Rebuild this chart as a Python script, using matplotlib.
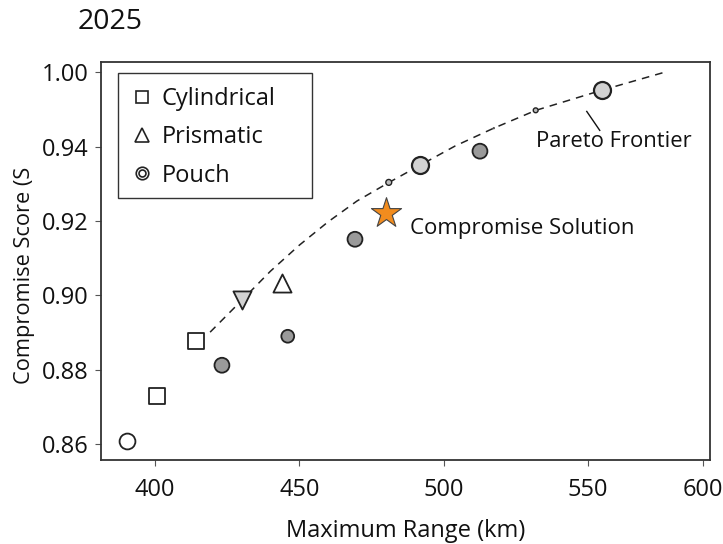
import matplotlib
matplotlib.use("Agg")
import matplotlib.pyplot as plt
from matplotlib.lines import Line2D
from matplotlib.patches import Rectangle
from matplotlib.legend_handler import HandlerTuple

plt.rcParams['font.family'] = ['Open Sans', 'DejaVu Sans']

# ---- data (axis units) ----
cyl_x = [400.7, 414.2]
cyl_y = [0.8729, 0.8877]

prism_up_x = [444.0]
prism_up_y = [0.9033]
prism_down_x = [430.1]
prism_down_y = [0.8987]

pouch_open_x = [390.3]
pouch_open_y = [0.8608]
pouch_dark_x = [423.2, 446.0, 469.3, 512.6]
pouch_dark_y = [0.8812, 0.8890, 0.9151, 0.9388]
pouch_light_x = [491.8, 554.9]
pouch_light_y = [0.9350, 0.9552]
pouch_tiny_x = [481.0, 531.9]
pouch_tiny_y = [0.9304, 0.9498]
pouch_dot_x = [517.4]
pouch_dot_y = [0.9450]

star_x = [480.0]
star_y = [0.9221]

frontier_x = [419.1, 430.1, 440.0, 450.0, 460.0, 470.0, 481.1, 491.8, 504.0, 517.1, 532.0, 554.8, 577.7]
frontier_y = [0.8901, 0.8987, 0.9065, 0.9135, 0.9198, 0.9254, 0.9304, 0.9350, 0.9402, 0.9449, 0.9498, 0.9552, 0.9603]

pareto_leader_x = [549.6, 554.1]
pareto_leader_y = [0.9495, 0.9444]

xtick_pos = [400, 450, 500, 550, 590]
xtick_labels = ['400', '450', '500', '550', '600']
ytick_pos = [0.86, 0.88, 0.90, 0.92, 0.94, 0.96]
ytick_labels = ['0.86', '0.88', '0.90', '0.92', '0.94', '1.00']

title_text = '2025'
x_label = 'Maximum Range (km)'
y_label = 'Compromise Score (S'
legend_labels = ['Cylindrical', 'Prismatic', 'Pouch']

# ---- figure ----
W, H = 723, 544
fig = plt.figure(figsize=(W/100, H/100), dpi=100)
ax = fig.add_axes([101/W, 1-460/H, (710-101)/W, (460-62)/H])

edge = '#222222'
light = '#d2d2d2'
dark = '#9a9a9a'
fs = 17

ax.plot(frontier_x, frontier_y, ls=(0, (5, 4)), color='#222222', lw=1.1, zorder=1)

ax.scatter(cyl_x, cyl_y, marker='s', s=125, facecolor='white', edgecolor=edge, linewidth=1.3, zorder=3)
ax.scatter(prism_up_x, prism_up_y, marker='^', s=170, facecolor='white', edgecolor=edge, linewidth=1.3, zorder=3)
ax.scatter(prism_down_x, prism_down_y, marker='v', s=170, facecolor=light, edgecolor=edge, linewidth=1.3, zorder=3)
ax.scatter(pouch_open_x, pouch_open_y, marker='o', s=130, facecolor='white', edgecolor=edge, linewidth=1.3, zorder=3)
ax.scatter(pouch_dark_x, pouch_dark_y, marker='o', s=[115, 85, 115, 115], facecolor=dark, edgecolor=edge, linewidth=1.3, zorder=3)
ax.scatter(pouch_light_x, pouch_light_y, marker='o', s=150, facecolor=light, edgecolor=edge, linewidth=1.6, zorder=3)
ax.scatter(pouch_tiny_x, pouch_tiny_y, marker='o', s=[18, 12], facecolor='#bbbbbb', edgecolor=edge, linewidth=1.0, zorder=3)
ax.scatter(pouch_dot_x, pouch_dot_y, marker='o', s=3, facecolor='#555555', edgecolor='none', zorder=3)
ax.scatter(star_x, star_y, marker='*', s=520, facecolor='#f28c1e', edgecolor='#444444', linewidth=0.8, zorder=4)

ax.text(488.3, 0.9181, 'Compromise Solution', fontsize=16, color='#111111', va='center', ha='left')
ax.plot(pareto_leader_x, pareto_leader_y, color='#111111', lw=1.0, zorder=2)
ax.text(532.0, 0.9415, 'Pareto Frontier', fontsize=15.8, color='#111111', va='center', ha='left')

ax.set_xlim(381.3, 592.3)
ax.set_ylim(0.8557, 0.9628)
ax.set_xticks(xtick_pos)
ax.set_xticklabels(xtick_labels)
ax.set_yticks(ytick_pos)
ax.set_yticklabels(ytick_labels)
ax.tick_params(labelsize=fs, length=4, width=0.8, color='#555555', labelcolor='#111111')
ax.tick_params(axis='x', pad=9)
ax.tick_params(axis='y', pad=5)
for sp in ax.spines.values():
    sp.set_color('#333333')
    sp.set_linewidth(1.3)

ax.set_xlabel(x_label, fontsize=fs, color='#111111', labelpad=12)
fig.text(25/W, 1-275/H, y_label, rotation=90, fontsize=15.7, color='#111111', ha='center', va='center')
fig.text(78/W, 1-22/H, title_text, fontsize=20.5, color='#111111', ha='left', va='center')

h_cyl = Line2D([], [], marker='s', ls='none', markersize=9, markerfacecolor='white', markeredgecolor=edge, markeredgewidth=1.2)
h_pri = Line2D([], [], marker='^', ls='none', markersize=10, markerfacecolor='white', markeredgecolor=edge, markeredgewidth=1.2)
h_po1 = Line2D([], [], marker='o', ls='none', markersize=9, markerfacecolor='white', markeredgecolor=edge, markeredgewidth=1.2)
h_po2 = Line2D([], [], marker='o', ls='none', markersize=5, markerfacecolor='white', markeredgecolor=edge, markeredgewidth=1.2)
leg = ax.legend([h_cyl, h_pri, (h_po1, h_po2)], legend_labels,
                handler_map={tuple: HandlerTuple(ndivide=1)},
                loc='upper left', bbox_to_anchor=(0.028, 0.972), borderaxespad=0,
                fontsize=fs, frameon=False,
                handlelength=0.8, handletextpad=0.45, labelspacing=0.6,
                borderpad=0.6)
for t in leg.get_texts():
    t.set_color('#111111')

fig.patches.append(Rectangle((118/W, 1-198/H), (312-118)/W, (198-73)/H,
                             transform=fig.transFigure, fill=False,
                             edgecolor='#333333', linewidth=1.0, zorder=5))

fig.savefig('out.png', dpi=100, facecolor='white')
